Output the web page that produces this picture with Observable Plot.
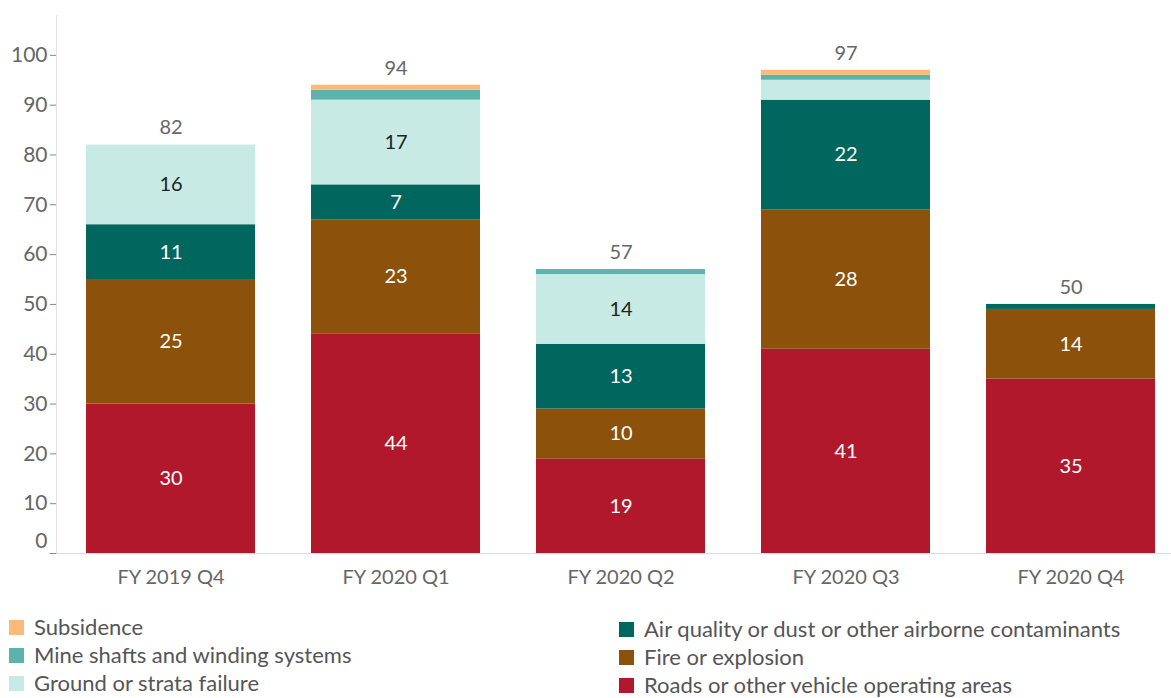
<!DOCTYPE html>
<html>
<head>
<meta charset="utf-8">
<script src="https://cdn.jsdelivr.net/npm/d3@7"></script>
<script src="https://cdn.jsdelivr.net/npm/@observablehq/plot@0.6"></script>
<style>
  html, body { margin: 0; padding: 0; background: #fff; overflow: hidden; }
  body { font-family: Lato, "Noto Sans", sans-serif; width: 1171px; }
  #legend { position: relative; height: 98px; }
  .item { position: absolute; display: flex; align-items: center; font-size: 22px; line-height: 24px; color: #555; white-space: nowrap; }
  .sw { width: 15px; height: 15px; margin-right: 10px; }
</style>
</head>
<body>
<div id="chart"></div>
<div id="legend"></div>
<script>
const quarters = ["FY 2019 Q4", "FY 2020 Q1", "FY 2020 Q2", "FY 2020 Q3", "FY 2020 Q4"];
const categories = [
  "Roads or other vehicle operating areas",
  "Fire or explosion",
  "Air quality or dust or other airborne contaminants",
  "Ground or strata failure",
  "Mine shafts and winding systems",
  "Subsidence"
];
const colors = ["#b2182b", "#8c510a", "#01665e", "#c7eae5", "#5ab4ac", "#fdb977"];
// values per category, one per quarter
const roads      = [30, 44, 19, 41, 35];
const fire       = [25, 23, 10, 28, 14];
const air        = [11,  7, 13, 22,  1];
const ground     = [16, 17, 14,  4,  0];
const mine       = [ 0,  2,  1,  1,  0];
const subsidence = [ 0,  1,  0,  1,  0];
const totals     = [82, 94, 57, 97, 50];

const series = [roads, fire, air, ground, mine, subsidence];
const data = [];
categories.forEach((c, i) => quarters.forEach((q, j) => {
  if (series[i][j] > 0) data.push({q, cat: c, v: series[i][j]});
}));
const totalData = quarters.map((q, j) => ({q, total: totals[j]}));
const darkCats = new Set([categories[0], categories[1], categories[2]]);
const lightCats = new Set([categories[3], categories[4], categories[5]]);

const stackOpts = {x: "q", y: "v", z: "cat", order: categories};

const chart = Plot.plot({
  width: 1171,
  height: 600,
  marginTop: 15,
  marginBottom: 47,
  marginLeft: 56,
  marginRight: 0,
  style: {fontFamily: "Lato, 'Noto Sans', sans-serif", fontSize: "20px", color: "#666", background: "#fff"},
  x: {domain: quarters, range: [56, 1185], paddingInner: 0.25, paddingOuter: 0.125, label: null},
  y: {domain: [0, 108], label: null},
  color: {domain: categories, range: colors},
  marks: [
    Plot.barY(data, Plot.stackY({...stackOpts, fill: "cat"})),
    Plot.frame({anchor: "left", stroke: "#e2e2e2"}),
    Plot.ruleY([0], {stroke: "#dcdcdc"}),
    Plot.axisY(d3.range(0, 101, 10), {tickSize: 6, tickPadding: 3, stroke: "#888", fill: "#666", fontSize: 21, tickFormat: d => d === 0 ? "" : d}),
    Plot.axisY([0], {tickSize: 0, tickPadding: 9, dy: -12, fill: "#666", fontSize: 21}),
    Plot.axisX({tickSize: 0, tickPadding: 16, fill: "#666", fontSize: 20}),
    Plot.text(data, Plot.stackY({...stackOpts, text: d => (darkCats.has(d.cat) && d.v >= 5) ? String(d.v) : "", fill: "white", fontSize: 20})),
    Plot.text(data, Plot.stackY({...stackOpts, text: d => (lightCats.has(d.cat) && d.v >= 5) ? String(d.v) : "", fill: "#222", fontSize: 20})),
    Plot.text(totalData, {x: "q", y: "total", text: d => String(d.total), dy: -17, fill: "#666", fontSize: 20})
  ]
});
document.getElementById("chart").appendChild(chart);

// legend: two columns, three rows each
const legend = document.getElementById("legend");
const legendCols = [
  [categories[5], categories[4], categories[3]],
  [categories[2], categories[1], categories[0]]
];
const colLeft = [9, 619];
const rowTop = [[27, 55, 83], [29, 57, 85]];
legendCols.forEach((col, ci) => col.forEach((cat, ri) => {
  const el = document.createElement("div");
  el.className = "item";
  el.style.left = colLeft[ci] + "px";
  el.style.top = (rowTop[ci][ri] - 12) + "px";
  const sw = document.createElement("div");
  sw.className = "sw";
  sw.style.background = colors[categories.indexOf(cat)];
  const tx = document.createElement("span");
  tx.textContent = cat;
  el.appendChild(sw);
  el.appendChild(tx);
  legend.appendChild(el);
}));
</script>
</body>
</html>
